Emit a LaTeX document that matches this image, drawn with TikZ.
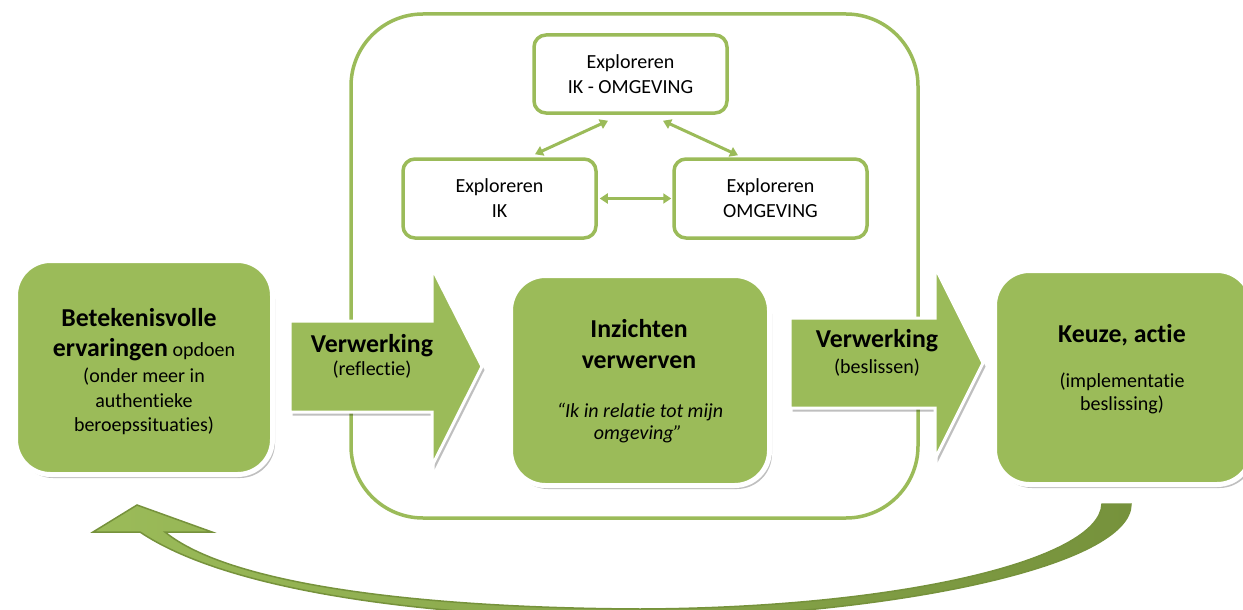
\documentclass[tikz,border=0pt]{standalone}
\usepackage{fontspec}
\setmainfont{Carlito}[Ligatures={NoCommon,NoContextual},RawFeature={-liga;-clig;-calt;-dlig;-rlig}]
\usetikzlibrary{arrows.meta,shadows,calc}
\definecolor{lg}{HTML}{9BBB59}
\definecolor{dg}{HTML}{76923C}
\newcommand\fr{\mdseries\fontsize{20}{25}\selectfont}
\newcommand\fb{\fontsize{25.8}{30}\selectfont\bfseries}
\begin{document}
\begin{tikzpicture}[x=1pt,y=-1pt,
  lbl/.style={anchor=base,inner sep=0pt,font=\fr},
  blbl/.style={anchor=base,inner sep=0pt,font=\fb},
  gbox/.style={draw=white,line width=5pt,fill=lg,rounded corners=35pt,
     drop shadow={shadow xshift=2.5pt,shadow yshift=-3.5pt,opacity=.25,fill=black}},
  sbox/.style={draw=lg,line width=3.5pt,fill=white,rounded corners=12pt,
     align=center,font=\fr,inner sep=0pt},
  bigbox/.style={draw=lg,line width=3.5pt,rounded corners=72pt},
  blockarrow/.style={draw=white,line width=3pt,fill=lg,
     drop shadow={shadow xshift=2.5pt,shadow yshift=-3.5pt,opacity=.25,fill=black}},
  biarrow/.style={draw=lg,line width=3pt,
     {Triangle[width=10pt,length=8pt]}-{Triangle[width=10pt,length=8pt]}}
]
\useasboundingbox (0,0) rectangle (1243,610);

% big exploration frame
\node[bigbox,minimum width=567pt,minimum height=504pt] (frame) at (634.5,266) {};

% small exploration boxes
\node[sbox,minimum width=193pt,minimum height=78pt] (top) at (630.5,74) {Exploreren\\IK - OMGEVING};
\node[sbox,minimum width=193pt,minimum height=79pt] (ik) at (499.5,198.5) {Exploreren\\IK};
\node[sbox,minimum width=193pt,minimum height=79pt] (omg) at (770.5,198.5) {Exploreren\\OMGEVING};

\draw[biarrow] ([xshift=2pt]ik.east) -- ([xshift=-1pt]omg.west);
\draw[biarrow] ([xshift=35.5pt,yshift=3pt]ik.north) -- ([xshift=-22.5pt,yshift=-6pt]top.south);
\draw[biarrow] ([xshift=32.5pt,yshift=-6pt]top.south) -- ([xshift=-32.5pt,yshift=2pt]omg.north);

% block arrows
\path[blockarrow] (290,321) -- (432,321) -- (432,268) -- (482,366.5) -- (432,466) -- (432,412) -- (290,412) -- cycle;
\path[blockarrow] (790,318) -- (935,318) -- (935,267) -- (983,363) -- (935,459) -- (935,408) -- (790,408) -- cycle;
\node[blbl] (v1) at (372,352) {Verwerking};
\node[lbl] (v1s) at (372,375) {(reflectie)};
\node[blbl] (v2) at (877,347) {Verwerking};
\node[lbl] (v2s) at (877,373) {(beslissen)};

% green boxes
\node[gbox,minimum width=257pt,minimum height=214pt] (exp) at (144,367.5) {};
\node[gbox,minimum width=259pt,minimum height=210pt] (ins) at (640,380.5) {};
\node[gbox,minimum width=257.5pt,minimum height=214pt] (keu) at (1123.25,377.5) {};

\node[blbl] (e1) at (139,326) {Betekenisvolle};
\node[lbl] (e2) at (144,356) {{\fb ervaringen} {\fr opdoen}};
\node[lbl] (e3) at (144,382) {(onder meer in};
\node[lbl] (e4) at (144,407) {authentieke};
\node[lbl] (e5) at (144,431) {beroepssituaties)};

\node[blbl] (i1) at (639,337) {Inzichten};
\node[blbl] (i2) at (639,368) {verwerven};
\node[lbl,font=\fr\itshape] (i3) at (640,417) {“Ik in relatie tot mijn};
\node[lbl,font=\fr\itshape] (i4) at (638,439) {omgeving”};

\node[blbl] (k1) at (1122,342) {Keuze, actie};
\node[lbl] (k2) at (1122,387) {(implementatie};
\node[lbl] (k3) at (1122,410) {beslissing)};

% curved feedback arrow
\path[draw=dg,line width=1.5pt,left color=lg,right color=dg]
  (137,505) -- (212,532) -- (165,532)
  .. controls (230,585) and (420,608) .. (640,609)
  .. controls (900,608) and (1100,560) .. (1102,504)
  -- (1131,504)
  .. controls (1131,565) and (900,615) .. (640,619)
  .. controls (400,617) and (220,586) .. (140,532)
  -- (93,532) -- cycle;
\end{tikzpicture}
\end{document}
